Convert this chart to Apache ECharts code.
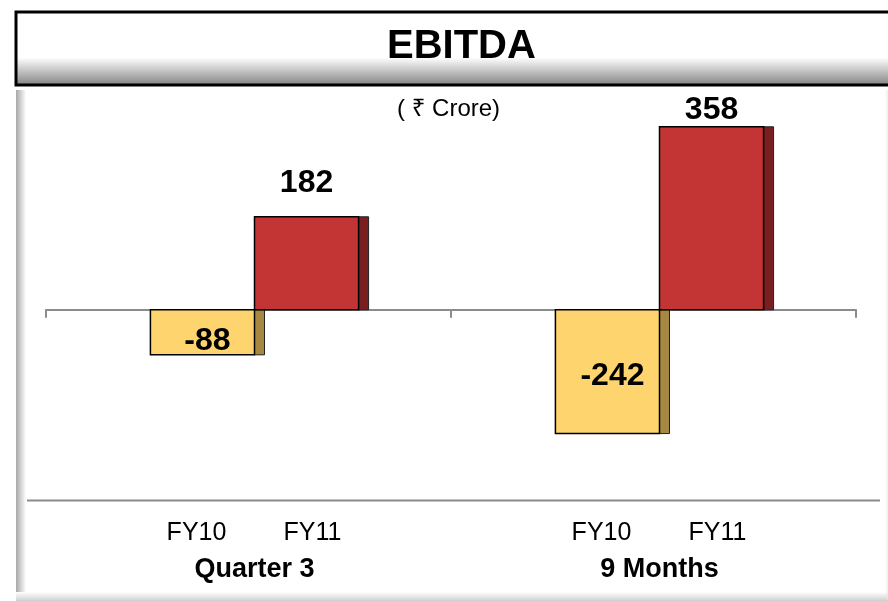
<!DOCTYPE html>
<html>
<head>
<meta charset="utf-8">
<title>EBITDA</title>
<script src="https://cdn.jsdelivr.net/npm/echarts@6/dist/echarts.min.js"></script>
<style>
  html, body { margin: 0; padding: 0; background: #fff; }
  #main { width: 888px; height: 601px; }
</style>
</head>
<body>
<div id="main"></div>
<script>
var categories = ['Quarter 3', '9 Months'];
var years = ['FY10', 'FY11'];
var fy10 = [-88, -242];
var fy11 = [182, 358];
var unitText = '( \u20B9 Crore)';

var faceColors = ['#FDD46E', '#C33535'];
var sideColors = ['#A68840', '#7A1F1F'];
var fontFam = 'Arial, "Liberation Sans", "Noto Sans", sans-serif';

// draws one "3d" bar: front face + darker strip on the right
function barRenderer(slot) {
  return function (params, api) {
    var cat = api.value(0);
    var val = api.value(1);
    var band = api.size([1, 0])[0];
    var w = band * 0.257;
    var base = api.coord([cat, 0]);
    var end = api.coord([cat, val]);
    var x = base[0] - w + slot * w + 6;
    var y = Math.min(base[1], end[1]);
    var h = Math.abs(base[1] - end[1]);
    var lx = x + w / 2, ly, va;
    if (val >= 0) {
      // keep the label inside the plot area
      ly = Math.max(y - 18, params.coordSys.y + 36); va = 'bottom';
    } else {
      ly = y + Math.max(h / 2 + 4, 31); va = 'middle'; lx += 5;
    }
    return {
      type: 'group',
      children: [
        { type: 'rect', shape: { x: x + w, y: y, width: 10, height: h },
          style: { fill: sideColors[slot], stroke: '#222', lineWidth: 1 } },
        { type: 'rect', shape: { x: x, y: y, width: w, height: h },
          style: { fill: faceColors[slot], stroke: '#000', lineWidth: 1.5 } },
        { type: 'text', style: { text: String(val), x: lx, y: ly, align: 'center',
          verticalAlign: va, font: 'bold 32px ' + fontFam, fill: '#000' } }
      ]
    };
  };
}

var chart = echarts.init(document.getElementById('main'));
chart.setOption({
  backgroundColor: '#fff',
  animation: false,
  title: [
    { text: 'EBITDA', left: 387, top: 27, padding: 0,
      textStyle: { fontSize: 40, fontWeight: 'bold', color: '#000', fontFamily: fontFam } },
    { text: unitText, left: 397, top: 97, padding: 0,
      textStyle: { fontSize: 24, fontWeight: 'normal', color: '#000', fontFamily: fontFam } }
  ],
  graphic: [
    { type: 'rect', z: -10, shape: { x: 16, y: 12, width: 880, height: 73 },
      style: { stroke: '#000', lineWidth: 3,
        fill: new echarts.graphic.LinearGradient(0, 0, 0, 1, [
          { offset: 0, color: '#fff' }, { offset: 0.62, color: '#fff' }, { offset: 1, color: '#7d7d7d' }
        ]) } },
    { type: 'rect', z: -10, shape: { x: 16, y: 90, width: 10, height: 510 },
      style: { fill: new echarts.graphic.LinearGradient(0, 0, 1, 0, [
          { offset: 0, color: '#a8a8a8' }, { offset: 1, color: '#fff' }
        ]) } },
    { type: 'rect', z: -10, shape: { x: 16, y: 592, width: 880, height: 9 },
      style: { fill: new echarts.graphic.LinearGradient(0, 0, 0, 1, [
          { offset: 0, color: '#fff' }, { offset: 1, color: '#cfcfcf' }
        ]) } },
    { type: 'line', z: -10, shape: { x1: 887, y1: 90, x2: 887, y2: 600 },
      style: { stroke: '#e6e6e6', lineWidth: 1 } },
    { type: 'line', shape: { x1: 27, y1: 500.5, x2: 880, y2: 500.5 },
      style: { stroke: '#8a8a8a', lineWidth: 2 } }
  ],
  grid: { left: 46, right: 32, top: 90, bottom: 102 },
  xAxis: [
    {
      type: 'category', data: categories, position: 'bottom',
      axisLine: { onZero: true, lineStyle: { color: '#8c8c8c', width: 2 } },
      axisTick: { show: true, length: 8, lineStyle: { color: '#8c8c8c', width: 2 } },
      axisLabel: { show: false },
      splitLine: { show: false }
    },
    {
      type: 'category', data: categories, position: 'bottom',
      axisLine: { show: false, onZero: false },
      axisTick: { show: false },
      splitLine: { show: false },
      axisLabel: {
        margin: 16,
        formatter: function (v) {
          return '{fy|' + years[0] + '}{fy|' + years[1] + '}\n{cat|' + v + '}';
        },
        rich: {
          fy: { width: 104, align: 'center', fontSize: 25, lineHeight: 36, color: '#000', fontFamily: fontFam, padding: [0, 0, 0, 12] },
          cat: { fontSize: 27, fontWeight: 'bold', lineHeight: 38, color: '#000', fontFamily: fontFam, padding: [0, 0, 0, 12] }
        }
      }
    }
  ],
  yAxis: { type: 'value', min: -370, max: 430, show: false },
  series: [
    { name: years[0], type: 'custom', renderItem: barRenderer(0), encode: { x: 0, y: 1 },
      data: fy10.map(function (v, i) { return [i, v]; }) },
    { name: years[1], type: 'custom', renderItem: barRenderer(1), encode: { x: 0, y: 1 },
      data: fy11.map(function (v, i) { return [i, v]; }) }
  ]
});
</script>
</body>
</html>
